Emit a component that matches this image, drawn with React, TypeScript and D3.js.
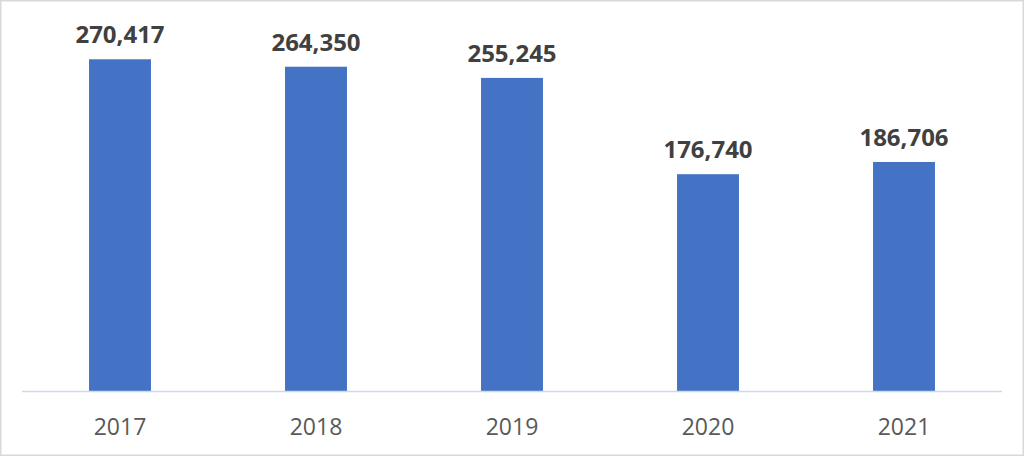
import { scaleBand, scaleLinear } from 'd3'

const YEARS = ['2017', '2018', '2019', '2020', '2021']
const VISITORS = [270417, 264350, 255245, 176740, 186706]
const Y_MAX = 300000

const SVG_WIDTH = 1024
const SVG_HEIGHT = 456
const PLOT = { left: 22, right: 1002, top: 23, bottom: 391 }
const BAR_RATIO = 0.316
const FONT = '"Open Sans", "Liberation Sans", sans-serif'

const formatValue = (value: number) => value.toLocaleString('en-US')

export default function App() {
  const x = scaleBand<string>()
    .domain(YEARS)
    .range([PLOT.left, PLOT.right])
    .padding(0)
  const y = scaleLinear().domain([0, Y_MAX]).range([PLOT.bottom, PLOT.top])
  const barWidth = x.bandwidth() * BAR_RATIO

  return (
    <div style={{ position: 'fixed', left: 0, top: 0 }}>
      <svg
        width={SVG_WIDTH}
        height={SVG_HEIGHT}
        viewBox={`0 0 ${SVG_WIDTH} ${SVG_HEIGHT}`}
        style={{ display: 'block', fontFamily: FONT }}
      >
        <rect
          x="0.75"
          y="0.75"
          width={SVG_WIDTH - 1.5}
          height={SVG_HEIGHT - 1.5}
          fill="#ffffff"
          stroke="#d9d9d9"
          strokeWidth="1.5"
        />

        {YEARS.map((year, i) => {
          const center = (x(year) ?? 0) + x.bandwidth() / 2
          const top = y(VISITORS[i])
          return (
            <g key={year}>
              <rect
                x={center - barWidth / 2}
                y={top}
                width={barWidth}
                height={y(0) - top}
                fill="#4472c4"
              />
              <text
                x={center}
                y={top - 16}
                textAnchor="middle"
                fontSize="24"
                fontWeight="700"
                fill="#404040"
              >
                {formatValue(VISITORS[i])}
              </text>
              <text
                x={center}
                y={435}
                textAnchor="middle"
                fontSize="23"
                fill="#595959"
              >
                {year}
              </text>
            </g>
          )
        })}

        <line
          x1={PLOT.left}
          x2={PLOT.right}
          y1={y(0) + 0.5}
          y2={y(0) + 0.5}
          stroke="#d0d9ea"
          strokeWidth="1.5"
        />
      </svg>
    </div>
  )
}
